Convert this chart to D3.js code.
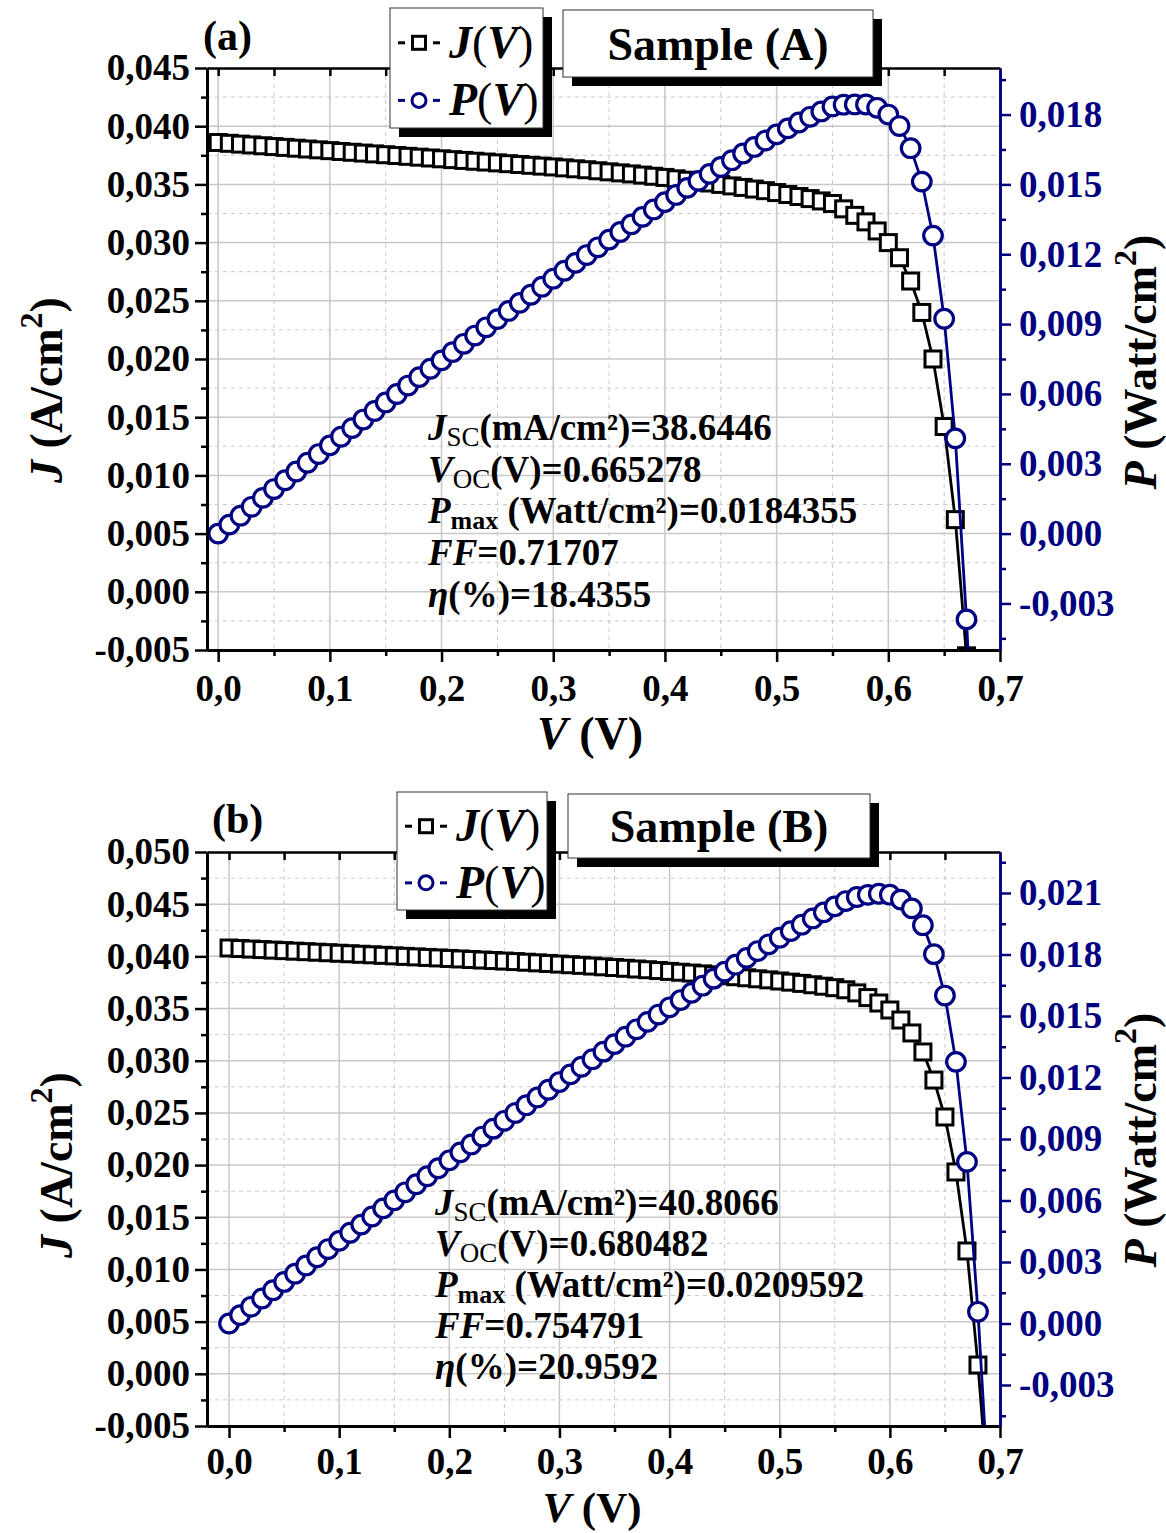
<!DOCTYPE html>
<html><head><meta charset="utf-8">
<script src="https://cdn.jsdelivr.net/npm/d3@7"></script>
<style>
body{margin:0;background:#fff}
svg{display:block}
text{font-family:"Liberation Serif","Times New Roman",serif;font-weight:bold}
</style>
</head><body>
<svg id="c" width="1166" height="1533"></svg>
<script>
// ---------------- DATA ----------------
const voltageA = [0,0.01,0.02,0.03,0.04,0.05,0.06,0.07,0.08,0.09,
 0.10,0.11,0.12,0.13,0.14,0.15,0.16,0.17,0.18,0.19,
 0.20,0.21,0.22,0.23,0.24,0.25,0.26,0.27,0.28,0.29,
 0.30,0.31,0.32,0.33,0.34,0.35,0.36,0.37,0.38,0.39,
 0.40,0.41,0.42,0.43,0.44,0.45,0.46,0.47,0.48,0.49,
 0.50,0.51,0.52,0.53,0.54,0.55,0.56,0.57,0.58,0.59,
 0.60,0.61,0.62,0.63,0.64,0.65,0.66,0.67,0.68];
const currentA = [0.0386,0.03853,0.03846,0.03839,0.03832,0.03825,0.03818,0.03811,0.03804,0.03797,
 0.0379,0.03783,0.03776,0.03769,0.03762,0.03755,0.03748,0.03741,0.03734,0.03727,
 0.0372,0.03713,0.03706,0.03699,0.03692,0.03685,0.03678,0.03671,0.03664,0.03657,
 0.0365,0.03642,0.03634,0.03626,0.03617,0.03608,0.03599,0.0359,0.0358,0.0357,
 0.0356,0.03548,0.03536,0.03524,0.03512,0.035,0.03487,0.03474,0.0346,0.03446,
 0.0343,0.03413,0.03396,0.03378,0.03358,0.03336,0.0329,0.03234,0.03178,0.031,
 0.03,0.0287,0.0267,0.024,0.02,0.0142,0.0062,-0.0055,-0.02];
const powerA = [0,0.000385,0.000769,0.001152,0.001533,0.001913,0.002291,0.002668,0.003043,0.003417,
 0.00379,0.004161,0.004531,0.0049,0.005267,0.005633,0.005997,0.00636,0.006721,0.007081,
 0.00744,0.007797,0.008153,0.008508,0.008861,0.009213,0.009563,0.009912,0.010259,0.010605,
 0.01095,0.01129,0.011629,0.011966,0.012298,0.012628,0.012956,0.013283,0.013604,0.013923,
 0.01424,0.014547,0.014851,0.015153,0.015453,0.01575,0.01604,0.016328,0.016608,0.016885,
 0.01715,0.017406,0.017659,0.017903,0.018133,0.018348,0.018424,0.018434,0.018432,0.01829,
 0.018,0.017507,0.016554,0.01512,0.0128,0.00923,0.004092,-0.003685,-0.0136];

const voltageB = [0,0.01,0.02,0.03,0.04,0.05,0.06,0.07,0.08,0.09,
 0.10,0.11,0.12,0.13,0.14,0.15,0.16,0.17,0.18,0.19,
 0.20,0.21,0.22,0.23,0.24,0.25,0.26,0.27,0.28,0.29,
 0.30,0.31,0.32,0.33,0.34,0.35,0.36,0.37,0.38,0.39,
 0.40,0.41,0.42,0.43,0.44,0.45,0.46,0.47,0.48,0.49,
 0.50,0.51,0.52,0.53,0.54,0.55,0.56,0.57,0.58,0.59,
 0.60,0.61,0.62,0.63,0.64,0.65,0.66,0.67,0.68,0.69];
const currentB = [0.0408,0.04075,0.0407,0.04065,0.0406,0.04055,0.0405,0.04045,0.0404,0.04035,
 0.0403,0.04025,0.0402,0.04015,0.0401,0.04005,0.04,0.03995,0.0399,0.03985,
 0.0398,0.03975,0.0397,0.03965,0.0396,0.03955,0.0395,0.03944,0.03938,0.03932,
 0.03926,0.0392,0.03914,0.03907,0.039,0.03893,0.03886,0.03879,0.03872,0.03864,
 0.03856,0.03848,0.0384,0.03832,0.03823,0.03814,0.03805,0.03795,0.03785,0.03775,
 0.03764,0.03753,0.03741,0.03728,0.03714,0.037,0.0368,0.0365,0.03605,0.03553,
 0.03486,0.0339,0.03266,0.03084,0.02815,0.02461,0.01934,0.01177,0.00084,-0.0125];
const powerB = [0,0.000408,0.000814,0.00122,0.001624,0.002028,0.00243,0.002832,0.003232,0.003632,
 0.00403,0.004428,0.004824,0.00522,0.005614,0.006008,0.0064,0.006792,0.007182,0.007572,
 0.00796,0.008348,0.008734,0.00912,0.009504,0.009888,0.01027,0.010649,0.011026,0.011403,
 0.011778,0.012152,0.012525,0.012893,0.01326,0.013626,0.01399,0.014352,0.014714,0.01507,
 0.015424,0.015777,0.016128,0.016478,0.016821,0.017163,0.017503,0.017837,0.018168,0.018498,
 0.01882,0.01914,0.019453,0.019758,0.020056,0.02035,0.020608,0.020805,0.020909,0.020963,
 0.020916,0.020679,0.020249,0.019429,0.018016,0.015997,0.012764,0.007886,0.000571,-0.008625];

// ticks
const xTicks = [0,0.1,0.2,0.3,0.4,0.5,0.6,0.7];
const xMinor = [0.05,0.15,0.25,0.35,0.45,0.55,0.65];
const jTicksA = [-0.005,0,0.005,0.01,0.015,0.02,0.025,0.03,0.035,0.04,0.045];
const jMinorA = [-0.0025,0.0025,0.0075,0.0125,0.0175,0.0225,0.0275,0.0325,0.0375,0.0425];
const pTicksA = [-0.003,0,0.003,0.006,0.009,0.012,0.015,0.018];
const pMinorA = [-0.0045,-0.0015,0.0015,0.0045,0.0075,0.0105,0.0135,0.0165,0.0195];
const jTicksB = [-0.005,0,0.005,0.01,0.015,0.02,0.025,0.03,0.035,0.04,0.045,0.05];
const jMinorB = [-0.0025,0.0025,0.0075,0.0125,0.0175,0.0225,0.0275,0.0325,0.0375,0.0425,0.0475];
const pTicksB = [-0.003,0,0.003,0.006,0.009,0.012,0.015,0.018,0.021];
const pMinorB = [-0.0045,-0.0015,0.0015,0.0045,0.0075,0.0105,0.0135,0.0165,0.0195,0.0225];

const annotA = ["38.6446","0.665278","0.0184355","0.71707","18.4355"];
const annotB = ["40.8066","0.680482","0.0209592","0.754791","20.9592"];

// ---------------- DRAW ----------------
const NAVY = "#000080";
const svg = d3.select("#c");
const fmt3 = v => d3.format(".3f")(v).replace(".", ",").replace("\u2212","-");
const fmt1 = v => d3.format(".1f")(v).replace(".", ",");

function panel(cfg){
  const g = svg.append("g");
  const x = d3.scaleLinear().domain(cfg.xDomain).range([cfg.left, cfg.right]);
  const yJ = d3.scaleLinear().domain(cfg.jDomain).range([cfg.bottom, cfg.top]);
  const yP = d3.scaleLinear().domain(cfg.pDomain).range([cfg.bottom, cfg.top]);

  // grid
  const grid = g.append("g");
  grid.selectAll(".gvx").data(xTicks.filter(d=>x(d)<cfg.right-2)).enter().append("line")
    .attr("x1",d=>x(d)).attr("x2",d=>x(d)).attr("y1",cfg.top).attr("y2",cfg.bottom)
    .attr("stroke","#c8c8c8").attr("stroke-width",1.5);
  grid.selectAll(".gvm").data(xMinor).enter().append("line")
    .attr("x1",d=>x(d)).attr("x2",d=>x(d)).attr("y1",cfg.top).attr("y2",cfg.bottom)
    .attr("stroke","#c8c8c8").attr("stroke-width",1).attr("stroke-dasharray","4,4");
  grid.selectAll(".ghy").data(cfg.jTicks.filter(d=>yJ(d)>cfg.top+2 && yJ(d)<cfg.bottom-2)).enter().append("line")
    .attr("x1",cfg.left).attr("x2",cfg.right).attr("y1",d=>yJ(d)).attr("y2",d=>yJ(d))
    .attr("stroke","#c8c8c8").attr("stroke-width",1.5);
  grid.selectAll(".ghm").data(cfg.jMinor).enter().append("line")
    .attr("x1",cfg.left).attr("x2",cfg.right).attr("y1",d=>yJ(d)).attr("y2",d=>yJ(d))
    .attr("stroke","#c8c8c8").attr("stroke-width",1).attr("stroke-dasharray","4,4");

  // clip
  const cid = "clip"+cfg.id;
  svg.append("defs").append("clipPath").attr("id",cid).append("rect")
    .attr("x",cfg.left).attr("y",cfg.top).attr("width",cfg.right-cfg.left).attr("height",cfg.bottom-cfg.top);
  const plot = g.append("g").attr("clip-path",`url(#${cid})`);

  const jPts = cfg.V.map((v,i)=>[v,cfg.J[i]]);
  const pPts = cfg.V.map((v,i)=>[v,cfg.P[i]]);
  plot.append("path").datum(jPts)
    .attr("d", d3.line().x(d=>x(d[0])).y(d=>yJ(d[1])))
    .attr("fill","none").attr("stroke","#000").attr("stroke-width",2.8);
  plot.selectAll(".sq").data(jPts).enter().append("rect")
    .attr("x",d=>x(d[0])-8).attr("y",d=>yJ(d[1])-8).attr("width",16).attr("height",16)
    .attr("fill","#fff").attr("stroke","#000").attr("stroke-width",3);
  plot.append("path").datum(pPts)
    .attr("d", d3.line().x(d=>x(d[0])).y(d=>yP(d[1])))
    .attr("fill","none").attr("stroke",NAVY).attr("stroke-width",2.8);
  plot.selectAll(".ci").data(pPts).enter().append("circle")
    .attr("cx",d=>x(d[0])).attr("cy",d=>yP(d[1])).attr("r",9.3)
    .attr("fill","#fff").attr("stroke",NAVY).attr("stroke-width",3.2);

  // axes
  function style(sel,color,w){
    sel.select(".domain").attr("stroke",color).attr("stroke-width",w);
    sel.selectAll(".tick line").attr("stroke",color).attr("stroke-width",2.5);
    sel.selectAll("text").attr("fill",color).style("font-size","37px")
      .style("font-family","'Liberation Serif','Times New Roman',serif").style("font-weight","bold");
  }
  const ta = g.append("g").attr("transform",`translate(0,${cfg.top})`)
    .call(d3.axisTop(x).tickValues(xTicks.concat(xMinor).filter(d=>x(d)<cfg.right-2)).tickSize(-8).tickSizeOuter(0).tickFormat(""));
  style(ta,"#000",2.5);
  const bm = g.append("g").attr("transform",`translate(0,${cfg.bottom})`)
    .call(d3.axisBottom(x).tickValues(xMinor).tickSize(6).tickSizeOuter(0).tickFormat(""));
  style(bm,"#000",3);
  const ba = g.append("g").attr("transform",`translate(0,${cfg.bottom})`)
    .call(d3.axisBottom(x).tickValues(xTicks).tickSize(12).tickSizeOuter(0).tickPadding(cfg.xPad).tickFormat(fmt1));
  style(ba,"#000",3);
  const lm = g.append("g").attr("transform",`translate(${cfg.left},0)`)
    .call(d3.axisLeft(yJ).tickValues(cfg.jMinor).tickSize(6).tickSizeOuter(0).tickFormat(""));
  style(lm,"#000",3);
  const la = g.append("g").attr("transform",`translate(${cfg.left},0)`)
    .call(d3.axisLeft(yJ).tickValues(cfg.jTicks).tickSize(12).tickSizeOuter(0).tickPadding(5).tickFormat(fmt3));
  style(la,"#000",3);
  const rm = g.append("g").attr("transform",`translate(${cfg.right},0)`)
    .call(d3.axisRight(yP).tickValues(cfg.pMinor).tickSize(6).tickSizeOuter(0).tickFormat(""));
  style(rm,NAVY,2.5);
  const ra = g.append("g").attr("transform",`translate(${cfg.right},0)`)
    .call(d3.axisRight(yP).tickValues(cfg.pTicks).tickSize(11).tickSizeOuter(0).tickPadding(8).tickFormat(fmt3));
  style(ra,NAVY,2.5);

  // axis titles
  const xt = g.append("text").attr("x",cfg.xTitle[0]).attr("y",cfg.xTitle[1])
    .attr("text-anchor","middle").style("font-size",cfg.xTitleSize+"px");
  xt.append("tspan").style("font-style","italic").text("V");
  xt.append("tspan").text(" (V)");

  const lt = g.append("text").attr("transform",`translate(${cfg.lTitle[0]},${cfg.lTitle[1]}) rotate(-90)`)
    .attr("text-anchor","middle").style("font-size","46px");
  lt.append("tspan").style("font-style","italic").text("J");
  lt.append("tspan").text(" (A/cm");
  lt.append("tspan").attr("dy",-20).style("font-size","32px").text("2");
  lt.append("tspan").attr("dy",20).text(")");

  const rt = g.append("text").attr("transform",`translate(${cfg.rTitle[0]},${cfg.rTitle[1]}) rotate(-90)`)
    .attr("text-anchor","middle").style("font-size","46px");
  rt.append("tspan").style("font-style","italic").text("P");
  rt.append("tspan").text(" (Watt/cm");
  rt.append("tspan").attr("dy",-20).style("font-size","32px").text("2");
  rt.append("tspan").attr("dy",20).text(")");

  g.append("text").attr("x",cfg.letter[0]).attr("y",cfg.letter[1]).style("font-size","42px").text(cfg.letterText);

  // legend box
  const L = cfg.legend;
  g.append("rect").attr("x",L.x+9).attr("y",L.y+9).attr("width",L.w).attr("height",L.h).attr("fill","#000");
  g.append("rect").attr("x",L.x).attr("y",L.y).attr("width",L.w).attr("height",L.h)
    .attr("fill","#fff").attr("stroke","#333").attr("stroke-width",1);
  const rows = [{name:"J",color:"#000",shape:"sq",cy:L.y+L.h*0.29},{name:"P",color:NAVY,shape:"ci",cy:L.y+L.h*0.77}];
  rows.forEach(r=>{
    const sx = L.x+29;
    g.append("line").attr("x1",sx-21).attr("x2",sx-14).attr("y1",r.cy).attr("y2",r.cy).attr("stroke",r.color).attr("stroke-width",3);
    g.append("line").attr("x1",sx+14).attr("x2",sx+21).attr("y1",r.cy).attr("y2",r.cy).attr("stroke",r.color).attr("stroke-width",3);
    if(r.shape==="sq"){
      g.append("rect").attr("x",sx-6.5).attr("y",r.cy-6.5).attr("width",13).attr("height",13)
        .attr("fill","#fff").attr("stroke",r.color).attr("stroke-width",3);
    } else {
      g.append("circle").attr("cx",sx).attr("cy",r.cy).attr("r",7)
        .attr("fill","#fff").attr("stroke",r.color).attr("stroke-width",3);
    }
    const t = g.append("text").attr("x",L.x+59).attr("y",r.cy+15).style("font-size","46px");
    t.append("tspan").style("font-style","italic").text(r.name);
    t.append("tspan").style("font-weight","normal").text("(");
    t.append("tspan").style("font-style","italic").text("V");
    t.append("tspan").style("font-weight","normal").text(")");
  });

  // sample box
  const S = cfg.sample;
  g.append("rect").attr("x",S.x+9).attr("y",S.y+9).attr("width",S.w).attr("height",S.h).attr("fill","#000");
  g.append("rect").attr("x",S.x).attr("y",S.y).attr("width",S.w).attr("height",S.h)
    .attr("fill","#fff").attr("stroke","#333").attr("stroke-width",1);
  g.append("text").attr("x",S.x+S.w/2).attr("y",S.y+S.h/2+16).attr("text-anchor","middle")
    .style("font-size","46px").text(cfg.sampleText);

  // annotations
  const A = cfg.annot, vals = cfg.annotVals, lh = A.lh;
  const mk = (i)=> g.append("text").attr("x",A.x).attr("y",A.y+i*lh).style("font-size","37px");
  let t = mk(0);
  t.append("tspan").style("font-style","italic").text("J");
  t.append("tspan").attr("dy",6).style("font-size","27px").style("font-weight","normal").text("SC");
  t.append("tspan").attr("dy",-6).text("(mA/cm²)="+vals[0]);
  t = mk(1);
  t.append("tspan").style("font-style","italic").text("V");
  t.append("tspan").attr("dy",6).style("font-size","27px").style("font-weight","normal").text("OC");
  t.append("tspan").attr("dy",-6).text("(V)="+vals[1]);
  t = mk(2);
  t.append("tspan").style("font-style","italic").text("P");
  t.append("tspan").attr("dy",6).style("font-size","26px").text("max");
  t.append("tspan").attr("dy",-6).text(" (Watt/cm²)="+vals[2]);
  t = mk(3);
  t.append("tspan").style("font-style","italic").text("FF");
  t.append("tspan").text("="+vals[3]);
  t = mk(4);
  t.append("tspan").style("font-style","italic").text("η");
  t.append("tspan").text("(%)="+vals[4]);
}

panel({id:"a", left:207,right:1000,top:68,bottom:650,
  xDomain:[-0.01,0.7], jDomain:[-0.005,0.045], pDomain:[-0.005,0.020],
  jTicks:jTicksA, jMinor:jMinorA, pTicks:pTicksA, pMinor:pMinorA,
  V:voltageA, J:currentA, P:powerA, xPad:13,
  xTitle:[590,749], xTitleSize:46, lTitle:[62,390], rTitle:[1156,362],
  letter:[203,50], letterText:"(a)",
  legend:{x:390,y:8,w:153,h:120},
  sample:{x:563,y:10,w:310,h:67}, sampleText:"Sample (A)",
  annot:{x:428,y:440,lh:41.7}, annotVals:annotA});

panel({id:"b", left:207,right:1000,top:852,bottom:1426,
  xDomain:[-0.02,0.7], jDomain:[-0.005,0.05], pDomain:[-0.005,0.023],
  jTicks:jTicksB, jMinor:jMinorB, pTicks:pTicksB, pMinor:pMinorB,
  V:voltageB, J:currentB, P:powerB, xPad:10,
  xTitle:[592,1522], xTitleSize:43, lTitle:[72,1165], rTitle:[1156,1140],
  letter:[212,833], letterText:"(b)",
  legend:{x:397,y:792,w:150,h:118},
  sample:{x:568,y:794,w:302,h:64}, sampleText:"Sample (B)",
  annot:{x:435,y:1215,lh:41}, annotVals:annotB});
</script>
</body></html>
